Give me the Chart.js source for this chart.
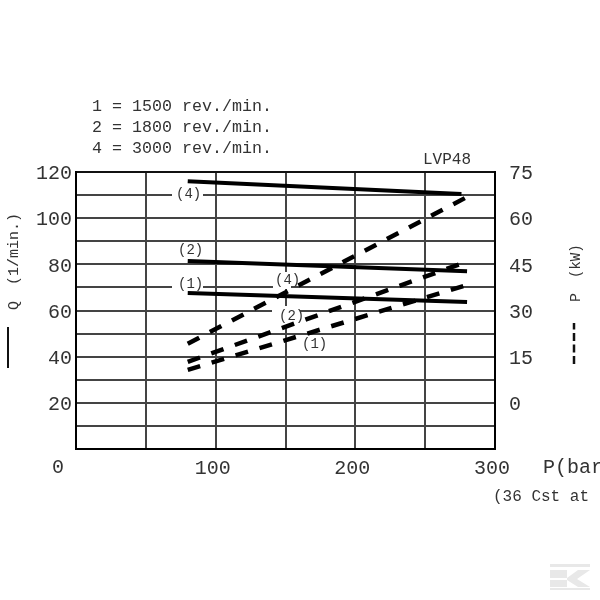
<!DOCTYPE html>
<html>
<head>
<meta charset="utf-8">
<style>
html, body { margin: 0; padding: 0; background: #fff; overflow: hidden; }
canvas { display: block; }
</style>
<script src="https://cdn.jsdelivr.net/npm/chart.js@4/dist/chart.umd.min.js"></script>
</head>
<body>
<div style="width:600px;height:600px"><canvas id="chart" width="600" height="600"></canvas></div>
<script>
// values: pressure in bar, Q in l/min, P in kW
const pressure = [80, 280];
const pressure4Q = [80, 276];
const pressure2P = [80, 277];

const flow1 = [67.6, 63.7];
const flow2 = [81.4, 77];
const flow4 = [116, 110.5];

const power1 = [10.7, 38.3];
const power2 = [13.3, 45.4];
const power4 = [19.2, 66.9];

const legendLines = ['1 = 1500 rev./min.', '2 = 1800 rev./min.', '4 = 3000 rev./min.'];

const MONO = '"Liberation Mono", monospace';
const INK = '#333';

function pts(xs, ys) {
    return xs.map((x, i) => ({ x: x, y: ys[i] }));
}

function solid(data) {
    return { data: data, yAxisID: 'y', borderColor: '#000', borderWidth: 4, pointRadius: 0, tension: 0, borderCapStyle: 'butt' };
}

function dashed(data) {
    return { data: data, yAxisID: 'y1', borderColor: '#000', borderWidth: 4.5, pointRadius: 0, tension: 0, borderCapStyle: 'butt', borderDash: [13, 12] };
}

function text(ctx, str, x, y, size, rot) {
    ctx.save();
    ctx.translate(x, y);
    if (rot) ctx.rotate(rot);
    ctx.font = size + 'px ' + MONO;
    ctx.fillStyle = INK;
    ctx.textBaseline = 'middle';
    ctx.textAlign = 'left';
    ctx.fillText(str, 0, 0);
    ctx.restore();
}

// white boxes behind the curve labels, they cut the grid but not the curves
const maskPlugin = {
    id: 'mask',
    beforeDatasetsDraw(chart) {
        const ctx = chart.ctx;
        ctx.save();
        ctx.fillStyle = '#fff';
        ctx.fillRect(172, 186, 31, 16);
        ctx.fillRect(172, 280, 31, 14);
        ctx.fillRect(273, 272, 18, 17);
        ctx.fillRect(272, 306, 28, 16);
        ctx.fillRect(282, 306, 18, 19);
        ctx.restore();
    }
};

const notesPlugin = {
    id: 'notes',
    afterDraw(chart) {
        const ctx = chart.ctx;
        legendLines.forEach((s, i) => text(ctx, s, 92, 107 + i * 21, 16.67));
        text(ctx, 'LVP48', 423, 160, 16);

        // curve labels
        text(ctx, '(4)', 176, 194, 14);
        text(ctx, '(2)', 178, 250, 14);
        text(ctx, '(1)', 178, 284, 14);
        text(ctx, '(4)', 275, 280, 14);
        text(ctx, '(2)', 279, 316, 14);
        text(ctx, '(1)', 302, 344, 14);

        // axis titles
        text(ctx, 'Q', 14, 310, 15, -Math.PI / 2);
        text(ctx, '(1/min.)', 14, 285, 15, -Math.PI / 2);
        text(ctx, 'P', 576, 302, 15, -Math.PI / 2);
        text(ctx, '(kW)', 576, 278, 14, -Math.PI / 2);

        text(ctx, '0', 52, 468, 20);
        text(ctx, 'P(bar', 543, 468, 20);
        text(ctx, '(36 Cst at', 493, 497, 16);

        // line style keys
        ctx.save();
        ctx.strokeStyle = '#111';
        ctx.lineWidth = 2;
        ctx.beginPath();
        ctx.moveTo(8, 327);
        ctx.lineTo(8, 368);
        ctx.stroke();
        ctx.lineWidth = 2.5;
        ctx.setLineDash([8, 3.5]);
        ctx.beginPath();
        ctx.moveTo(574, 364);
        ctx.lineTo(574, 323);
        ctx.stroke();
        ctx.restore();

        // faded logo bottom right
        ctx.save();
        ctx.fillStyle = '#e8e8e8';
        ctx.fillRect(550, 564, 40, 3);
        ctx.fillRect(550, 588, 40, 2);
        ctx.fillRect(550, 570, 17, 8);
        ctx.fillRect(550, 580, 17, 7);
        ctx.beginPath();
        ctx.moveTo(567, 578);
        ctx.lineTo(578, 570);
        ctx.lineTo(590, 570);
        ctx.lineTo(577, 579);
        ctx.lineTo(590, 587);
        ctx.lineTo(578, 587);
        ctx.lineTo(567, 580);
        ctx.closePath();
        ctx.fill();
        ctx.restore();
    }
};

new Chart(document.getElementById('chart').getContext('2d'), {
    type: 'line',
    data: {
        datasets: [
            solid(pts(pressure, flow1)),
            solid(pts(pressure, flow2)),
            solid(pts(pressure4Q, flow4)),
            dashed(pts(pressure, power1)),
            dashed(pts(pressure2P, power2)),
            dashed(pts(pressure, power4))
        ]
    },
    options: {
        animation: false,
        responsive: false,
        layout: { padding: { top: 172, left: 0, right: 0, bottom: 0 } },
        plugins: { legend: { display: false }, tooltip: { enabled: false } },
        scales: {
            x: {
                type: 'linear',
                min: 0,
                max: 300,
                afterFit: s => { s.height = 151; },
                border: { color: '#000', width: 2 },
                grid: {
                    drawTicks: false,
                    lineWidth: 2,
                    color: c => (c.tick.value === 300 ? '#111' : '#444')
                },
                ticks: {
                    stepSize: 50,
                    maxRotation: 0,
                    autoSkip: false,
                    padding: 8,
                    labelOffset: -3,
                    color: INK,
                    font: { family: MONO, size: 20 },
                    callback: v => (v > 0 && v % 100 === 0 ? String(v) : '')
                }
            },
            y: {
                position: 'left',
                min: 0,
                max: 120,
                afterFit: s => { s.width = 76; },
                border: { color: '#000', width: 2 },
                grid: {
                    drawTicks: false,
                    lineWidth: 2,
                    color: c => (c.tick.value === 120 ? '#111' : c.tick.value === 0 ? '#000' : '#444')
                },
                ticks: {
                    stepSize: 10,
                    autoSkip: false,
                    padding: 4,
                    labelOffset: 2,
                    color: INK,
                    font: { family: MONO, size: 20 },
                    callback: v => (v > 0 && v % 20 === 0 ? String(v) : '')
                }
            },
            y1: {
                position: 'right',
                min: -15,
                max: 75,
                afterFit: s => { s.width = 105; },
                border: { color: '#000', width: 2 },
                grid: { display: false, drawTicks: false },
                ticks: {
                    stepSize: 15,
                    autoSkip: false,
                    padding: 14,
                    labelOffset: 2,
                    color: INK,
                    font: { family: MONO, size: 20 },
                    callback: v => (v >= 0 ? String(v) : '')
                }
            }
        }
    },
    plugins: [maskPlugin, notesPlugin]
});
</script>
</body>
</html>
